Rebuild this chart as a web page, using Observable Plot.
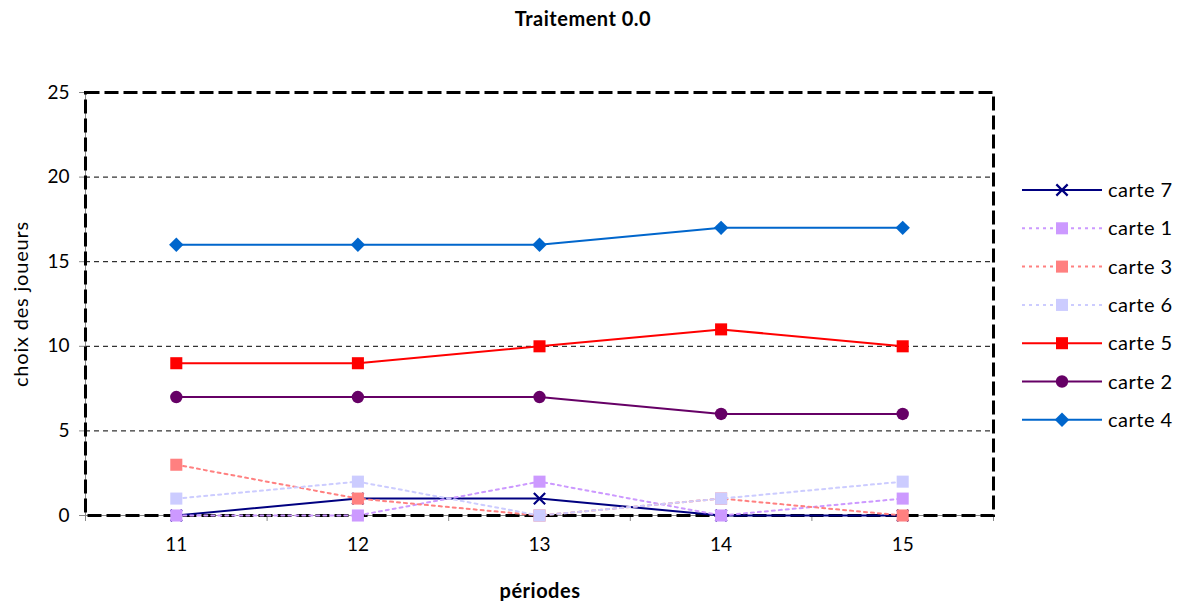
<!DOCTYPE html>
<html>
<head>
<meta charset="utf-8">
<script src="https://cdn.jsdelivr.net/npm/d3@7"></script>
<script src="https://cdn.jsdelivr.net/npm/@observablehq/plot@0.6"></script>
<style>
  html, body { margin: 0; padding: 0; background: #fff; }
  #wrap { position: relative; width: 1184px; height: 601px; font-family: Lato, "Open Sans", sans-serif; }
  .abs { position: absolute; white-space: nowrap; color: #000; line-height: 1; }
</style>
</head>
<body>
<div id="wrap"></div>
<script>
// ---- data ----
const periods = [11, 12, 13, 14, 15];
const seriesNames = ["carte 7", "carte 1", "carte 3", "carte 6", "carte 5", "carte 2", "carte 4"];
const carte7 = [0, 1, 1, 0, 0];
const carte1 = [0, 0, 2, 0, 1];
const carte3 = [3, 1, 0, 1, 0];
const carte6 = [1, 2, 0, 1, 2];
const carte5 = [9, 9, 10, 11, 10];
const carte2 = [7, 7, 7, 6, 6];
const carte4 = [16, 16, 16, 17, 17];
const yTicks = [0, 5, 10, 15, 20, 25];
const title = "Traitement 0.0";
const xLabel = "périodes";
const yLabel = "choix des joueurs";

// ---- styles ----
const values = [carte7, carte1, carte3, carte6, carte5, carte2, carte4];
const styles = [
  {color: "#000080", dash: null, symbol: "times", r: 5.2, fill: false},
  {color: "#CC99FF", dash: "3,4", symbol: "square", r: 6.8, fill: true},
  {color: "#FF8080", dash: "3,4", symbol: "square", r: 6.8, fill: true},
  {color: "#CCCCFF", dash: "3,4", symbol: "square", r: 6.8, fill: true},
  {color: "#FF0000", dash: null, symbol: "square", r: 6.8, fill: true},
  {color: "#660066", dash: null, symbol: "circle", r: 6.2, fill: true},
  {color: "#0066CC", dash: null, symbol: "diamond2", r: 6.5, fill: true}
];

const tables = seriesNames.map((name, i) => periods.map((p, j) => ({name, x: p, y: values[i][j]})));

const marks = [
  Plot.gridY(yTicks.filter(t => t > 0 && t < 25), {stroke: "#000", strokeOpacity: 1, strokeWidth: 1, strokeDasharray: "5,4"}),
  Plot.ruleX([periods[0] - 0.5], {stroke: "#888", strokeWidth: 1}),
  Plot.ruleY([0], {stroke: "#888", strokeWidth: 1}),
  Plot.axisY({ticks: yTicks, tickSize: 6, tickPadding: 10, fontSize: 19, label: null, stroke: "#888"}),
  Plot.axisX({ticks: periods, tickSize: 0, tickPadding: 22, fontSize: 19, label: null, tickFormat: d => String(d)}),
  Plot.axisX({ticks: [...periods.map(p => p - 0.5), periods[periods.length - 1] + 0.5], tickSize: 6, tickFormat: () => "", label: null, stroke: "#888"}),
  Plot.frame({stroke: "#000", strokeWidth: 3, strokeDasharray: "14,5"})
];
tables.forEach((t, i) => {
  const s = styles[i];
  marks.push(Plot.line(t, {x: "x", y: "y", stroke: s.color, strokeWidth: 2, strokeDasharray: s.dash, curve: "linear"}));
  if (s.fill) {
    marks.push(Plot.dot(t, {x: "x", y: "y", symbol: s.symbol, r: s.r, fill: s.color, stroke: "none"}));
  } else {
    marks.push(Plot.dot(t, {x: "x", y: "y", symbol: s.symbol, r: s.r, stroke: s.color, strokeWidth: 2.2, fill: "none"}));
  }
});

const chart = Plot.plot({
  width: 1184,
  height: 601,
  marginLeft: 85,
  marginRight: 191,
  marginTop: 92,
  marginBottom: 86,
  style: {fontFamily: "Lato, 'Open Sans', sans-serif", fontSize: "19px", color: "#000", background: "#fff"},
  x: {type: "linear", domain: [periods[0] - 0.5, periods[periods.length - 1] + 0.5]},
  y: {domain: [0, 25]},
  marks
});

const wrap = document.getElementById("wrap");
chart.style.position = "absolute";
chart.style.left = "0";
chart.style.top = "0";
wrap.appendChild(chart);

// titles
function addText(txt, css) {
  const d = document.createElement("div");
  d.className = "abs";
  d.textContent = txt;
  Object.assign(d.style, css);
  wrap.appendChild(d);
  return d;
}
addText(title, {left: "583px", top: "18px", transform: "translate(-50%,-50%)", fontWeight: "bold", fontSize: "20px", letterSpacing: "0.5px"});
addText(xLabel, {left: "540px", top: "590px", transform: "translate(-50%,-50%)", fontWeight: "bold", fontSize: "20px", letterSpacing: "0.5px"});
addText(yLabel, {left: "20px", top: "304px", transform: "translate(-50%,-50%) rotate(-90deg)", fontSize: "20px", letterSpacing: "0.8px"});

// legend
const svg = d3.select(chart);
const lg = svg.append("g").attr("font-family", "Lato, 'Open Sans', sans-serif").attr("font-size", 20).attr("letter-spacing", "0.5px").attr("text-anchor", "start");
seriesNames.forEach((name, i) => {
  const s = styles[i];
  const y = 190 + i * 38.3;
  lg.append("line").attr("x1", 1022).attr("x2", 1102).attr("y1", y).attr("y2", y)
    .attr("stroke", s.color).attr("stroke-width", 2).attr("stroke-dasharray", s.dash);
  const symMap = {times: d3.symbolTimes, square: d3.symbolSquare, circle: d3.symbolCircle, diamond2: d3.symbolDiamond2};
  const path = d3.symbol(symMap[s.symbol], Math.PI * s.r * s.r)();
  const p = lg.append("path").attr("d", path).attr("transform", `translate(1062,${y})`);
  if (s.fill) p.attr("fill", s.color); else p.attr("fill", "none").attr("stroke", s.color).attr("stroke-width", 2.2);
  lg.append("text").attr("x", 1108).attr("y", y).attr("dy", "0.35em").attr("fill", "#000").text(name);
});
</script>
</body>
</html>
